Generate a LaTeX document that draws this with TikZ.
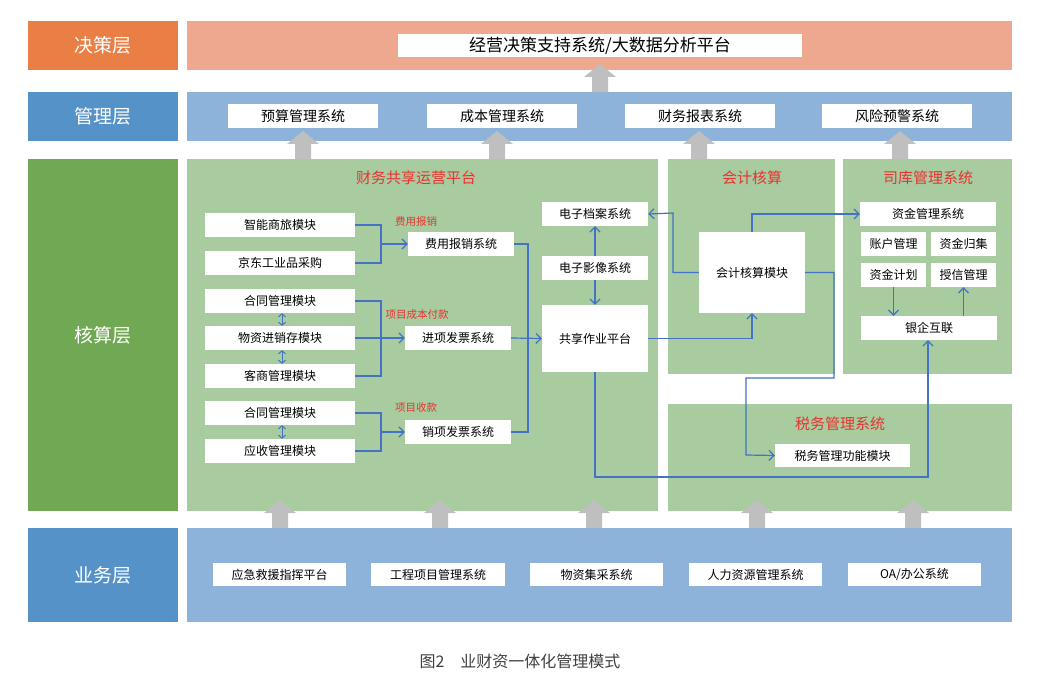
\documentclass[tikz,border=0pt]{standalone}
\usepackage{fontspec}
\setmainfont{Noto Sans CJK SC}
\usetikzlibrary{arrows.meta,positioning,calc}
\definecolor{orgdark}{HTML}{E97F44}
\definecolor{orglight}{HTML}{EEA890}
\definecolor{bluedark}{HTML}{5592C8}
\definecolor{bluelight}{HTML}{8DB3DA}
\definecolor{grndark}{HTML}{70A853}
\definecolor{grnlight}{HTML}{A8CBA0}
\definecolor{lineblue}{HTML}{4472C4}
\definecolor{titlered}{HTML}{E8332E}
\definecolor{arrgray}{HTML}{BFBFBF}
\tikzset{
	%Define standard arrow tip
	>={Straight Barb[length=5pt,width=10pt]},
	%Define style for boxes
	layer/.style={rectangle, inner sep=0pt, text=white, font=\fontsize{19}{19}\selectfont},
	panel/.style={rectangle, inner sep=0pt},
	box/.style={rectangle, fill=white, inner sep=0pt, font=\fontsize{12}{12}\selectfont},
	ptitle/.style={text=titlered, font=\fontsize{15}{15}\selectfont},
	plabel/.style={text=titlered, font=\fontsize{10.5}{10.5}\selectfont},
	% Define arrow style
	pil/.style={->, lineblue, line width=1.2pt},
	lin/.style={lineblue, line width=1.2pt},
	dbl/.style={<->, lineblue, line width=1pt, >={Straight Barb[length=3pt,width=7pt]}}
}
% gray block arrow: x, bottom y, top y
\newcommand{\grayup}[3]{\fill[arrgray] (#1-8,#2) -- (#1-8,#3+13) -- (#1-16,#3+13) -- (#1,#3) -- (#1+16,#3+13) -- (#1+8,#3+13) -- (#1+8,#2) -- cycle;}
\newcommand{\rbox}[5]{\node[#5, minimum width=#3-#1, minimum height=#4-#2] at ({(#1+#3)/2},{(#2+#4)/2})}
\begin{document}
\begin{tikzpicture}[x=1pt,y=-1pt]
	\useasboundingbox (0,0) rectangle (1041,687);
	% layer labels
	\rbox{28}{21}{178}{70}{layer, fill=orgdark} (ljc) {决策层};
	\rbox{28}{92}{178}{141}{layer, fill=bluedark} (lgl) {管理层};
	\rbox{28}{159}{178}{511}{layer, fill=grndark} (lhs) {核算层};
	\rbox{28}{528}{178}{622}{layer, fill=bluedark} (lyw) {业务层};
	% panels
	\rbox{187}{21}{1012}{70}{panel, fill=orglight} (pjc) {};
	\rbox{187}{92}{1012}{141}{panel, fill=bluelight} (pgl) {};
	\rbox{187}{159}{658}{511}{panel, fill=grnlight} (pfs) {};
	\rbox{668}{159}{835}{374}{panel, fill=grnlight} (pkj) {};
	\rbox{843}{159}{1012}{374}{panel, fill=grnlight} (psk) {};
	\rbox{668}{404}{1012}{511}{panel, fill=grnlight} (psw) {};
	\rbox{187}{528}{1012}{622}{panel, fill=bluelight} (pyw) {};
	% gray arrows
	\grayup{600}{92}{64}
	\foreach \x in {303,497,699,900} {\grayup{\x}{159}{131}}
	\foreach \x in {280,440,594,757,913} {\grayup{\x}{528}{500}}
	% decision layer
	\rbox{398}{34}{802}{57}{box, font=\fontsize{17}{17}\selectfont} (jc) {经营决策支持系统/大数据分析平台};
	% management layer
	\rbox{228}{104}{378}{128}{box, font=\fontsize{14}{14}\selectfont} (ys) {预算管理系统};
	\rbox{427}{104}{577}{128}{box, font=\fontsize{14}{14}\selectfont} (cb) {成本管理系统};
	\rbox{625}{104}{775}{128}{box, font=\fontsize{14}{14}\selectfont} (cw) {财务报表系统};
	\rbox{822}{104}{972}{128}{box, font=\fontsize{14}{14}\selectfont} (fx) {风险预警系统};
	% business layer
	\rbox{213}{563}{346}{586}{box} (yj) {应急救援指挥平台};
	\rbox{371}{563}{505}{586}{box} (gc) {工程项目管理系统};
	\rbox{530}{563}{663}{586}{box} (wz) {物资集采系统};
	\rbox{689}{563}{822}{586}{box} (rl) {人力资源管理系统};
	\rbox{848}{563}{981}{586}{box} (oa) {OA/办公系统};
	% panel titles
	\node[ptitle] at (416,178) {财务共享运营平台};
	\node[ptitle] at (752,178) {会计核算};
	\node[ptitle] at (928,178) {司库管理系统};
	\node[ptitle] at (840,424) {税务管理系统};
	\node[plabel] at (416,222) {费用报销};
	\node[plabel] at (417,315) {项目成本付款};
	\node[plabel] at (416,408) {项目收款};
	% shared platform modules
	\rbox{205}{213}{355}{237}{box} (sl) {智能商旅模块};
	\rbox{205}{251}{355}{275}{box} (jd) {京东工业品采购};
	\rbox{205}{289}{355}{313}{box} (ht) {合同管理模块};
	\rbox{205}{326}{355}{350}{box} (wzj) {物资进销存模块};
	\rbox{205}{364}{355}{388}{box} (ks) {客商管理模块};
	\rbox{205}{401}{355}{425}{box} (htb) {合同管理模块};
	\rbox{205}{439}{355}{463}{box} (ysk) {应收管理模块};
	\rbox{408}{232}{514}{256}{box} (fy) {费用报销系统};
	\rbox{405}{326}{511}{350}{box} (jx) {进项发票系统};
	\rbox{405}{420}{511}{444}{box} (xx) {销项发票系统};
	\rbox{542}{202}{648}{226}{box} (da) {电子档案系统};
	\rbox{542}{256}{648}{280}{box} (yx) {电子影像系统};
	\rbox{542}{305}{648}{372}{box} (gx) {共享作业平台};
	% accounting, treasury, tax
	\rbox{699}{232}{805}{313}{box} (kj) {会计核算模块};
	\rbox{860}{202}{996}{226}{box} (zj) {资金管理系统};
	\rbox{861}{232}{926}{256}{box} (zh) {账户管理};
	\rbox{931}{232}{996}{256}{box} (gj) {资金归集};
	\rbox{861}{263}{926}{287}{box} (jh) {资金计划};
	\rbox{931}{263}{996}{287}{box} (sx) {授信管理};
	\rbox{861}{316}{997}{340}{box} (yq) {银企互联};
	\rbox{775}{444}{910}{467}{box} (sw) {税务管理功能模块};
	% merges into the three systems
	\draw[lin] (sl.east) -| (381,256);
	\draw[lin] (jd.east) -| (381,244);
	\draw[pil] (381,244) -- (fy.west);
	\draw[lin] (ht.east) -| (ks.east-|381,0) -- (ks.east);
	\draw[pil] (wzj.east) -- (jx.west);
	\draw[lin] (htb.east) -| (381,451) -- (ysk.east);
	\draw[pil] (381,432) -- (xx.west);
	\draw[dbl] (ht.south-|282,0) -- (wzj.north-|282,0);
	\draw[dbl] (wzj.south-|282,0) -- (ks.north-|282,0);
	\draw[dbl] (htb.south-|282,0) -- (ysk.north-|282,0);
	% bus into shared platform
	\draw[lin] (fy.east) -| (528,432) -- (xx.east);
	\draw[pil] (jx.east) -- (gx.west);
	\draw[pil] (yx.north) -- (da.south);
	\draw[pil] (yx.south) -- (gx.north);
	% platform to accounting and treasury
	\draw[pil] (gx.east) -| (kj.south);
	\draw[pil] (kj.west) -| (673,213) -- (da.east);
	\draw[pil] (kj.north) |- (zj.west);
	\draw[pil] (kj.east) -| (834,378) -| (746,455) -- (sw.west);
	\draw[pil] (gx.south) |- (928,477) -- (yq.south-|928,0);
	\draw[pil] (jh.south) -- (yq.north-|jh.south);
	\draw[pil] (yq.north-|sx.south) -- (sx.south);
	% caption
	\node[font=\fontsize{16}{16}\selectfont, text=black!75] at (520,661) {图2\quad 业财资一体化管理模式};
\end{tikzpicture}
\end{document}
